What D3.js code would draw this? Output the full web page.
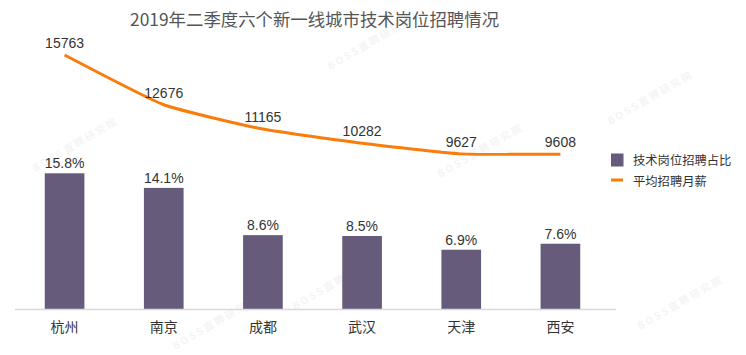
<!DOCTYPE html>
<html><head><meta charset="utf-8">
<script src="https://cdn.jsdelivr.net/npm/d3@7"></script>
<style>body{margin:0;background:#fff;}svg{display:block;font-family:"Noto Sans CJK SC","Noto Sans",sans-serif;}</style>
</head><body><svg id="c" width="746" height="355"></svg>
<script>
const title = "2019年二季度六个新一线城市技术岗位招聘情况";
const cities = ["杭州","南京","成都","武汉","天津","西安"];
const sharePct = [15.8,14.1,8.6,8.5,6.9,7.6];
const salary = [15763,12676,11165,10282,9627,9608];
const legendNames = ["技术岗位招聘占比","平均招聘月薪"];
const watermark = "B O S S 直 聘 研 究 院";

const svg = d3.select("#c");
const barColor = "#675b7c", lineColor = "#f97c0c";

// watermarks
const wm = [[35,172],[175,350],[295,310],[440,178],[610,125],[640,330],[330,70]];
svg.append("g").selectAll("text").data(wm).join("text")
  .attr("transform", d=>`translate(${d[0]},${d[1]}) rotate(-30)`)
  .attr("font-size",10).attr("font-weight","bold").attr("fill","#000").attr("opacity",0.04)
  .text(watermark);

const x = d3.scaleBand().domain(cities).range([15,610]).paddingInner(0.6).paddingOuter(0.3);
const yBar = d3.scaleLinear().domain([0,15.8]).range([309,173.3]);
const yLine = d3.scaleLinear().domain([0,15763]).range([309,55]);

svg.append("text").attr("x",130).attr("y",26).attr("font-size",17.4).attr("fill","#555").text(title);

svg.append("g").selectAll("rect").data(cities).join("rect")
  .attr("x",d=>x(d)).attr("width",x.bandwidth())
  .attr("y",(d,i)=>yBar(sharePct[i])).attr("height",(d,i)=>yBar(0)-yBar(sharePct[i]))
  .attr("fill",barColor);

svg.append("g").selectAll("text").data(cities).join("text")
  .attr("x",d=>x(d)+x.bandwidth()/2).attr("y",(d,i)=>yBar(sharePct[i])-5)
  .attr("text-anchor","middle").attr("font-size",14).attr("fill","#333").attr("font-family","Liberation Sans, Arial, sans-serif")
  .text((d,i)=>sharePct[i].toFixed(1)+"%");

// axis
const ax = svg.append("g").attr("transform","translate(0,309)").call(d3.axisBottom(x).tickSize(0).tickPadding(13));
ax.select(".domain").attr("d","M15,0.5H616").attr("stroke","#d9d9d9").attr("stroke-width",1.5);
ax.selectAll("text").attr("font-size",14).attr("fill","#333").attr("font-family","Noto Sans CJK SC, sans-serif");

const line = d3.line().x((d,i)=>x(cities[i])+x.bandwidth()/2).y(d=>yLine(d)).curve(d3.curveCardinal.tension(0.55));
svg.append("path").datum(salary).attr("d",line).attr("fill","none").attr("stroke",lineColor).attr("stroke-width",3);

svg.append("g").selectAll("text").data(salary).join("text")
  .attr("x",(d,i)=>x(cities[i])+x.bandwidth()/2).attr("y",d=>yLine(d)-7)
  .attr("text-anchor","middle").attr("font-size",14).attr("fill","#333").attr("font-family","Liberation Sans, Arial, sans-serif")
  .text(d=>d);

// legend
const lg = svg.append("g");
lg.append("rect").attr("x",611).attr("y",153.5).attr("width",12.5).attr("height",13).attr("fill",barColor);
lg.append("line").attr("x1",611).attr("x2",623).attr("y1",180).attr("y2",180).attr("stroke",lineColor).attr("stroke-width",3);
lg.selectAll("text").data(legendNames).join("text")
  .attr("x",633).attr("y",(d,i)=>165+i*21).attr("font-size",12.3).attr("fill","#333").text(d=>d);
</script></body></html>
